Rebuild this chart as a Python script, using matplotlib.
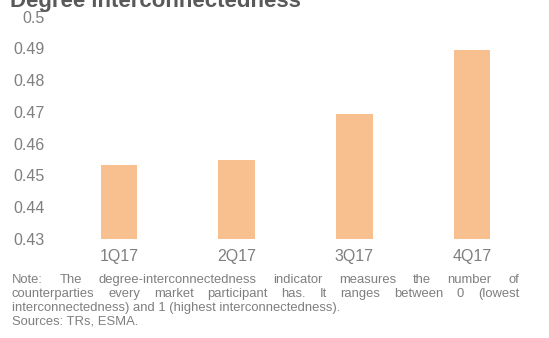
import matplotlib
matplotlib.use('Agg')
import matplotlib.pyplot as plt

quarters = ['1Q17', '2Q17', '3Q17', '4Q17']
values = [0.4533, 0.4549, 0.4694, 0.4895]
yticks = [0.43, 0.44, 0.45, 0.46, 0.47, 0.48, 0.49, 0.5]
ytick_labels = ['0.43', '0.44', '0.45', '0.46', '0.47', '0.48', '0.49', '0.5']

note_lines = [
    'Note: The degree-interconnectedness indicator measures the number of',
    'counterparties every market participant has. It ranges between 0 (lowest',
    'interconnectedness) and 1 (highest interconnectedness).',
    'Sources: TRs, ESMA.',
]

plt.rcParams['font.family'] = ['Liberation Sans', 'DejaVu Sans']

fig = plt.figure(figsize=(5.49, 3.38), dpi=100)
W, H = 549, 338
bottom = (H - 239) / H
top = (H - 16.7) / H
left = 60 / W
right = 531 / W
ax = fig.add_axes([left, bottom, right - left, top - bottom])

ax.bar(range(len(quarters)), values, width=0.31, color='#F9C08F')
ax.set_xlim(-0.5, 3.5)
ax.set_ylim(0.43, 0.5)
ax.set_yticks(yticks)
ax.set_yticklabels(ytick_labels)
ax.set_xticks(range(len(quarters)))
ax.set_xticklabels(quarters)
for s in ax.spines.values():
    s.set_visible(False)
ax.tick_params(axis='both', length=0, labelsize=11.5, colors='#7F7F7F')
ax.tick_params(axis='y', pad=11)
ax.tick_params(axis='x', pad=7)

fig.text(10 / W, 1 - 1 / H, 'Degree interconnectedness', fontsize=16,
         fontweight='bold', color='#595959', va='center', ha='left')

# justified note text
fig.canvas.draw()
r = fig.canvas.get_renderer()
x0, x1 = 12, 519
ys = [280, 294, 308, 322]
fs = 9.35
for i, (line, y) in enumerate(zip(note_lines, ys)):
    yf = 1 - y / H
    if i < 2:
        words = line.split(' ')
        ts = [fig.text(0, yf, w, fontsize=fs, color='#7F7F7F', va='center') for w in words]
        widths = [t.get_window_extent(r).width for t in ts]
        gap = (x1 - x0 - sum(widths)) / (len(words) - 1)
        x = x0
        for t, w in zip(ts, widths):
            t.set_x(x / W)
            x += w + gap
    else:
        fig.text(x0 / W, yf, line, fontsize=fs, color='#7F7F7F', va='center')

fig.savefig('out.png', dpi=100)
